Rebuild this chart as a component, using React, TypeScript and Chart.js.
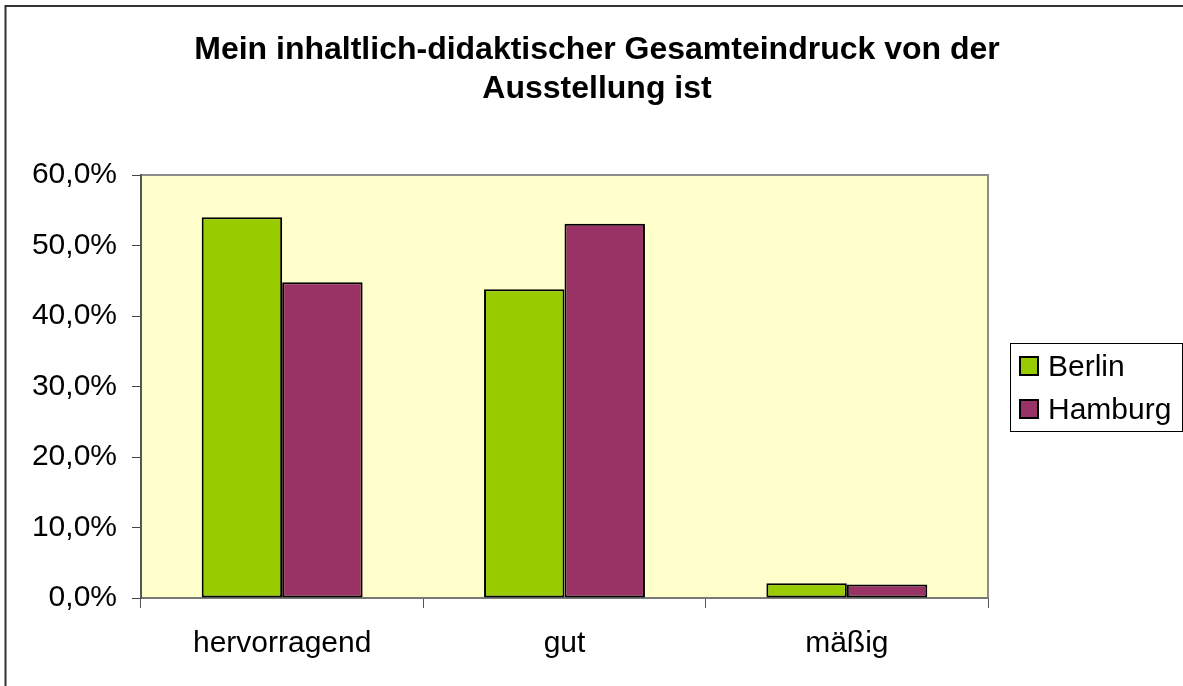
import React, { useEffect, useRef } from 'react';
import { Chart, registerables } from 'chart.js';

Chart.register(...registerables);

const categories = ['hervorragend', 'gut', 'mäßig'];
const seriesNames = ['Berlin', 'Hamburg'];
const berlinValues = [54.0, 43.8, 2.1];
const hamburgValues = [44.8, 53.1, 1.9];
const seriesColors = ['#99CC00', '#993366'];
const titleLines = ['Mein inhaltlich-didaktischer Gesamteindruck von der', 'Ausstellung ist'];
const yMin = 0;
const yMax = 60;
const yStep = 10;

const FONT = "'Liberation Sans', Arial, Helvetica, sans-serif";

const decorPlugin = {
  id: 'decor',
  beforeDraw(chart: any) {
    const { ctx, chartArea } = chart;
    ctx.save();
    ctx.fillStyle = '#ffffff';
    ctx.fillRect(0, 0, chart.width, chart.height);
    ctx.fillStyle = '#FFFFCC';
    ctx.fillRect(chartArea.left, chartArea.top, chartArea.right - chartArea.left, chartArea.bottom - chartArea.top);
    ctx.strokeStyle = '#8c8c8c';
    ctx.lineWidth = 2;
    ctx.beginPath();
    ctx.moveTo(chartArea.left, chartArea.top);
    ctx.lineTo(chartArea.right, chartArea.top);
    ctx.lineTo(chartArea.right, chartArea.bottom);
    ctx.stroke();
    ctx.restore();
  },
  afterDraw(chart: any) {
    const { ctx } = chart;
    ctx.save();
    // outer frame
    ctx.strokeStyle = '#333333';
    ctx.lineWidth = 2;
    ctx.beginPath();
    ctx.moveTo(5.5, chart.height + 5);
    ctx.lineTo(5.5, 6);
    ctx.lineTo(chart.width + 5, 6);
    ctx.stroke();
    // title
    ctx.fillStyle = '#000000';
    ctx.font = `bold 32px ${FONT}`;
    ctx.textAlign = 'center';
    ctx.textBaseline = 'alphabetic';
    titleLines.forEach((line, i) => {
      ctx.fillText(line, 597, 59 + i * 39);
    });
    // legend
    const lx = 1010, ly = 343, lw = 172, lh = 88;
    ctx.strokeStyle = '#000000';
    ctx.lineWidth = 1;
    ctx.strokeRect(lx + 0.5, ly + 0.5, lw, lh);
    ctx.font = `30px ${FONT}`;
    ctx.textAlign = 'left';
    chart.data.datasets.forEach((ds: any, i: number) => {
      const sy = 357 + i * 43;
      ctx.fillStyle = ds.backgroundColor;
      ctx.fillRect(1020, sy, 18, 18);
      ctx.strokeStyle = '#000000';
      ctx.lineWidth = 2;
      ctx.strokeRect(1020, sy, 18, 18);
      ctx.fillStyle = '#000000';
      ctx.fillText(ds.label, 1048, sy + 19);
    });
    ctx.restore();
  },
};

export default function App() {
  const ref = useRef<HTMLCanvasElement | null>(null);

  useEffect(() => {
    if (!ref.current) return;
    const chart = new Chart(ref.current, {
      type: 'bar',
      data: {
        labels: categories,
        datasets: [
          {
            label: seriesNames[0],
            data: berlinValues,
            backgroundColor: seriesColors[0],
            borderColor: '#000000',
            borderWidth: 2,
            borderSkipped: false,
          },
          {
            label: seriesNames[1],
            data: hamburgValues,
            backgroundColor: seriesColors[1],
            borderColor: '#000000',
            borderWidth: 2,
            borderSkipped: false,
          },
        ],
      },
      options: {
        responsive: false,
        animation: false,
        devicePixelRatio: 1,
        layout: { padding: { left: 0, right: 195, top: 175, bottom: 0 } },
        datasets: { bar: { categoryPercentage: 0.57, barPercentage: 1.0 } },
        plugins: {
          legend: { display: false },
          title: { display: false },
          tooltip: { enabled: false },
        },
        scales: {
          x: {
            afterFit: (s: any) => { s.height = 88; },
            grid: { display: true, drawOnChartArea: false, offset: true, tickLength: 10, color: '#555555', lineWidth: 1 },
            border: { display: true, color: '#7a7a7a', width: 2 },
            ticks: { color: '#000000', font: { family: FONT, size: 30 }, padding: 18 },
          },
          y: {
            min: yMin,
            max: yMax,
            afterFit: (s: any) => { s.width = 141; },
            grid: { display: true, drawOnChartArea: false, tickLength: 9, color: '#444444', lineWidth: 1 },
            border: { display: true, color: '#555555', width: 2 },
            ticks: {
              stepSize: yStep,
              color: '#000000',
              font: { family: FONT, size: 30 },
              padding: 15,
              callback: (v: any) => Number(v).toFixed(1).replace('.', ',') + '%',
            },
          },
        },
      },
      plugins: [decorPlugin],
    });
    return () => chart.destroy();
  }, []);

  return (
    <div style={{ position: 'fixed', left: 0, top: 0, width: 1183, height: 686, background: '#fff' }}>
      <canvas ref={ref} width={1183} height={686} style={{ display: 'block', width: 1183, height: 686 }} />
    </div>
  );
}
